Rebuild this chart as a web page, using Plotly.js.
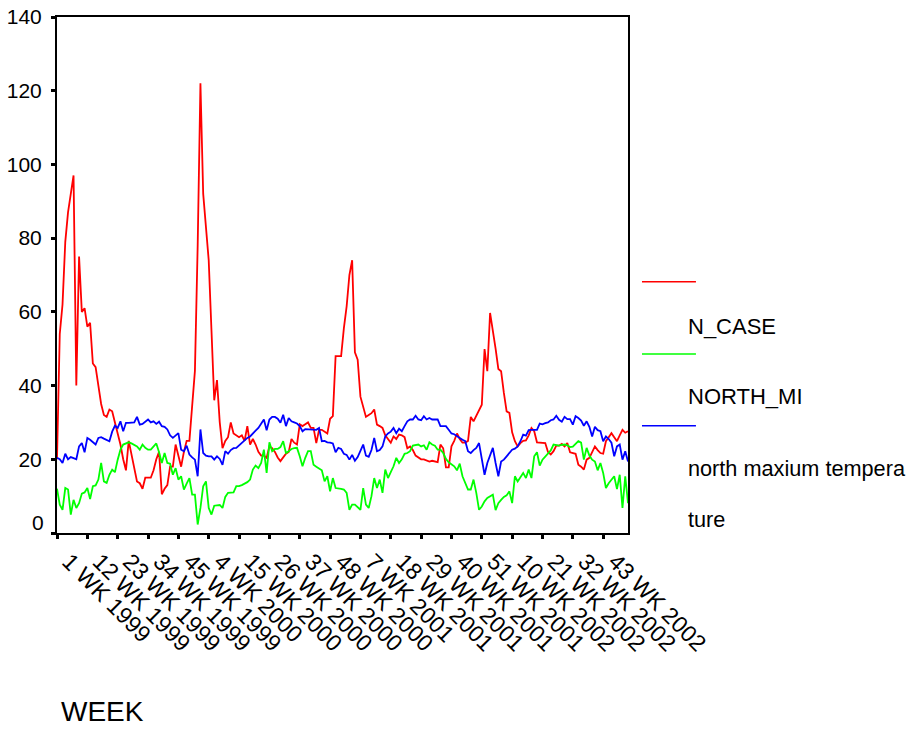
<!DOCTYPE html>
<html>
<head>
<meta charset="utf-8">
<script src="https://cdn.plot.ly/plotly-3.0.1.min.js"></script>
<style>
  html, body { margin: 0; padding: 0; background: #ffffff; }
  #chart { width: 909px; height: 731px; }
</style>
</head>
<body>
<div id="chart"></div>
<script>
// Weekly case counts, 1999-2002 (52 weeks per year)
const nCase = [
  20, 54, 62, 79, 87, 92, 97, 40, 75, 60,
  61, 56, 57, 46, 45, 40, 35, 32, 31.5, 33.5,
  33, 30, 27, 24, 20, 17, 25, 21, 18, 14,
  13.5, 12, 15, 15, 15, 17, 20, 22, 10.5, 12,
  13, 18, 18, 24, 21, 18, 22, 25, 25, 35,
  44, 78, 122, 92, 82, 74, 55, 36, 41.5, 30,
  23, 25, 26, 30, 27, 26.5, 26, 26.5, 25, 29,
  24, 25.5, 24, 22, 21, 21, 20.4, 23.5, 23, 22,
  20.5, 19.5, 20.5, 21.5, 22, 25.5, 24.5, 24, 29.5, 29,
  29.5, 30, 28.5, 28.5, 24.4, 28, 28, 27.5, 27, 31,
  31.7, 48, 48, 48, 55.6, 61.5, 70, 74, 49, 47,
  37, 34.5, 31.5, 32, 32.5, 33.5, 29.4, 29, 28.5, 26.5,
  25.5, 24.5, 26.2, 25.5, 26.7, 26.5, 26, 23, 23.5, 22.5,
  21, 20.5, 20, 20, 19.8, 19.4, 19.6, 19.4, 19.2, 24,
  23, 17.8, 17.8, 23.5, 25, 27, 25.5, 24.5, 24.5, 25,
  31.5, 30.3, 31.7, 33, 34.8, 49.9, 43.9, 59.7, 55.4, 50,
  44.5, 43.9, 38, 33, 32.6, 27.3, 24.9, 23.5, 24.4, 25,
  25.1, 26.5, 28.5, 27.6, 24.6, 24.6, 24.5, 24.4, 22, 21.3,
  22.2, 23.7, 23.7, 24.2, 23.5, 24.4, 21.9, 21.7, 21.5, 18.5,
  18, 17.2, 19.9, 20.4, 22, 23.5, 22.5, 21.7, 21.5, 24.9,
  26, 27.1, 26, 24.9, 26.5, 28, 27.2, 27.6
];

// Weekly northern minimum temperature
const northMin = [
  12, 7.7, 6.3, 12.2, 11.8, 5, 9, 6.8, 8.1, 10.7,
  11, 12.2, 9.2, 12.7, 12.9, 14.5, 19, 14, 13.6, 15.8,
  17.2, 16.5, 19.9, 22.6, 24, 24.4, 24.6, 24.3, 23.8, 23.5,
  22.6, 24, 23.1, 22.6, 22.6, 23.5, 24.3, 21.9, 19, 21.7,
  19, 18.8, 15.8, 17.6, 14.5, 15.4, 11.8, 13.4, 14.9, 10.4,
  10.4, 2.3, 6.8, 12.7, 14, 6.8, 5, 7.4, 7.4, 7.6,
  6.8, 9.8, 10.9, 11, 11, 12.7, 12.7, 13, 13.4, 13.8,
  14.5, 17.2, 18.3, 17.6, 19, 22.6, 16.3, 24.6, 22.2, 22.8,
  22.8, 23.3, 24.9, 21.7, 22.2, 22.8, 23, 23.1, 20.8, 18.1,
  20.4, 22.2, 22.2, 18.5, 18, 17.6, 17, 14, 15.4, 11.3,
  14.9, 12.2, 12.2, 12, 11.8, 10.9, 6.3, 7.7, 7.7, 7,
  6.3, 12.2, 7.7, 6.8, 10, 14.9, 12.2, 14.5, 10.9, 17.2,
  14.9, 16.5, 18.1, 20.4, 19, 20, 21.5, 21.7, 22.2, 23.7,
  23.8, 24, 23.5, 23.8, 22.6, 24.6, 24, 23.7, 22.6, 22.6,
  21.7, 20.1, 19.2, 18.6, 18.1, 17, 18.8, 15.4, 13.5, 11.8,
  11.8, 14.5, 10.9, 6.3, 7.2, 8.6, 9.5, 10, 10.4, 6.2,
  8.1, 9, 9.8, 10.2, 11.3, 8.1, 15.4, 14, 15, 16.3,
  14.9, 17.2, 14.9, 20.8, 21.9, 18.3, 19.9, 20.8, 21.7, 22.4,
  24, 23.8, 23.7, 23.9, 24, 23.8, 23.3, 23.4, 24.2, 24.9,
  24.5, 19.9, 23.1, 21, 19.9, 19.4, 17, 19, 16.3, 12.2,
  13.5, 14.5, 15.4, 11.9, 15.8, 6.8, 15.4, 8.1
];

// Weekly northern maximum temperature
const northMax = [
  20.4, 20, 19, 21.5, 20, 20.6, 20.3, 20, 23.5, 24.4,
  21.9, 25.8, 25.3, 24.6, 24, 25.8, 26, 25.6, 25.3, 24.9,
  27.5, 29.1, 28.5, 30.3, 27.6, 29.9, 29.9, 29.9, 30, 31.5,
  29.4, 29.6, 30.2, 30.8, 30, 30.3, 29.6, 30.2, 29, 28.8,
  28.1, 26.5, 25.8, 26.5, 27.1, 22.6, 22.2, 23.7, 21.3, 20.5,
  19.9, 15.4, 28.1, 21.7, 21, 20.8, 20.8, 19.9, 20.8, 20.1,
  18.5, 22.2, 21.5, 22.5, 23, 23.1, 23.8, 24.5, 25.3, 25.8,
  26.2, 27.1, 27.8, 28.5, 29.5, 30.8, 27.9, 30.8, 31.5, 31.5,
  31, 29.9, 32.1, 29, 31.2, 30.3, 30, 29.7, 29, 27.6,
  28.2, 28.1, 28, 28, 28, 28.5, 24.9, 25, 24.6, 24.5,
  24.3, 21.9, 23.1, 22.8, 21.5, 21.2, 19.9, 21.2, 19.6, 20.6,
  22.2, 24, 21, 20.7, 22.5, 25.8, 22.2, 22.5, 23.5, 26.2,
  27, 27.5, 28.5, 27.1, 28.3, 27.6, 29, 30.3, 30.8, 30.8,
  31.8, 30.8, 30.6, 31.7, 30.8, 31.2, 30.8, 30.8, 30.8, 29,
  29, 29, 28, 27, 26.8, 26.2, 25.8, 25.3, 24.9, 22.2,
  21.7, 22.5, 23.1, 24.4, 20, 15.8, 19, 20.8, 23.1, 19,
  15.4, 19.4, 19.9, 20.8, 21.7, 22.6, 22.9, 23.5, 24.9, 26.7,
  26.4, 27.9, 28, 28, 28, 29.7, 29.5, 29.8, 30, 30.6,
  30.8, 31.8, 30.7, 30.2, 31.5, 30.9, 30.9, 29.4, 31.7, 31.2,
  30.5, 29.1, 30.3, 28.8, 26.2, 28.8, 27.9, 27.6, 24.9, 26.2,
  25.5, 24.5, 20.8, 23.5, 24, 19.9, 22.2, 19.4
];

const tickWeeks = [1, 12, 23, 34, 45, 56, 67, 78, 89, 100, 111, 122, 133, 144, 155, 166, 177, 188, 199];
const tickLabels = [
  '1 WK 1999', '12 WK 1999', '23 WK 1999', '34 WK 1999', '45 WK 1999',
  '4 WK 2000', '15 WK 2000', '26 WK 2000', '37 WK 2000', '48 WK 2000',
  '7 WK 2001', '18 WK 2001', '29 WK 2001', '40 WK 2001', '51 WK 2001',
  '10 WK 2002', '21 WK 2002', '32 WK 2002', '43 WK 2002'
];
const yTicks = [0, 20, 40, 60, 80, 100, 120, 140];

const seriesNames = ['N_CASE', 'NORTH_MI', 'north maxium temperature'];
const seriesColors = ['#ff0000', '#00ff00', '#0000ff'];
const seriesData = [nCase, northMin, northMax];

// sequential week index used as the x position
const weekIndex = nCase.map((_, i) => i + 1);

const FONT = 'Liberation Sans, Arial, Helvetica, sans-serif';

const traces = seriesData.map((vals, k) => ({
  type: 'scatter',
  mode: 'lines',
  name: seriesNames[k],
  x: weekIndex,
  y: vals,
  line: { color: seriesColors[k], width: 1.8 },
  showlegend: false,
  hoverinfo: 'x+y'
}));

// legend drawn by hand: sample line above each (wrapped) label
const legendLineY = [0.487, 0.347, 0.208];
const legendText = [
  { t: 'N_CASE', y: 0.400, s: 22 },
  { t: 'NORTH_MI', y: 0.264, s: 22 },
  { t: 'north maxium tempera', y: 0.1254, s: 21.7 },
  { t: 'ture', y: 0.0252, s: 21.7 }
];

const shapes = legendLineY.map((yy, k) => ({
  type: 'line', xref: 'paper', yref: 'paper',
  x0: 1.0245, x1: 1.119, y0: yy, y1: yy,
  line: { color: seriesColors[k], width: 1.5 }
}));

const annotations = legendText.map(o => ({
  xref: 'paper', yref: 'paper', x: 1.1016, y: o.y,
  xanchor: 'left', yanchor: 'middle', showarrow: false,
  text: o.t, font: { family: FONT, size: o.s, color: '#000' }
}));

// the zero label sits slightly above its tick
annotations.push({
  xref: 'paper', yref: 'y', x: 0, y: 0, xshift: -11, yshift: 11,
  xanchor: 'right', yanchor: 'middle', showarrow: false,
  text: '0', font: { family: FONT, size: 21, color: '#000' }
});

// x axis title, left aligned under the tick labels
annotations.push({
  xref: 'paper', yref: 'paper', x: 0.004, y: -0.345,
  xanchor: 'left', yanchor: 'middle', showarrow: false,
  text: 'WEEK', font: { family: FONT, size: 28, color: '#000' }
});

const layout = {
  width: 909, height: 731,
  margin: { l: 57, r: 281, t: 17, b: 198, pad: 0 },
  paper_bgcolor: '#ffffff', plot_bgcolor: '#ffffff',
  font: { family: FONT, color: '#000' },
  xaxis: {
    range: [1, 208],
    tickmode: 'array', tickvals: tickWeeks, ticktext: tickLabels,
    tickangle: 45,
    ticks: 'outside', ticklen: 4, tickwidth: 3, tickcolor: '#000',
    ticklabelshift: 12,
    tickfont: { family: FONT, size: 23, color: '#000' },
    showline: true, linecolor: '#000', linewidth: 2, mirror: true,
    showgrid: false, zeroline: false, automargin: false
  },
  yaxis: {
    range: [0, 140],
    tickmode: 'array', tickvals: yTicks,
    ticktext: yTicks.map(v => v === 0 ? ' ' : String(v)),
    ticks: 'outside', ticklen: 4, tickwidth: 3, tickcolor: '#000',
    ticklabelstandoff: 5,
    tickfont: { family: FONT, size: 21, color: '#000' },
    showline: true, linecolor: '#000', linewidth: 2, mirror: true,
    showgrid: false, zeroline: false, automargin: false
  },
  shapes: shapes,
  annotations: annotations,
  showlegend: false
};

Plotly.newPlot('chart', traces, layout, { displayModeBar: false, staticPlot: true });
</script>
</body>
</html>
